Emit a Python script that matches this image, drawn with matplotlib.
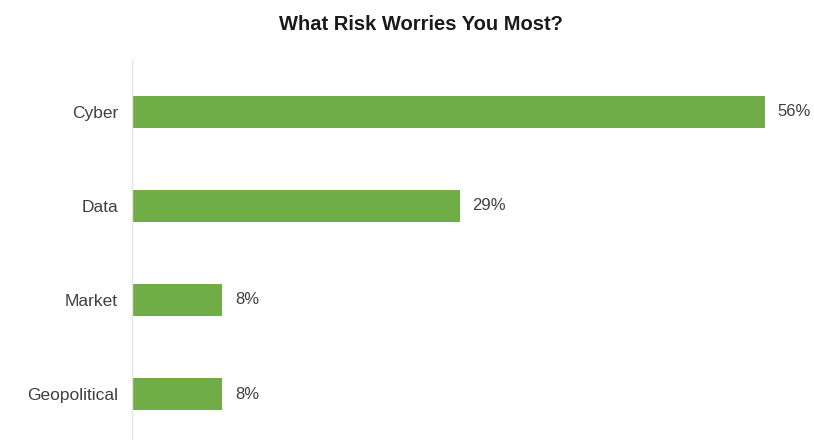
import matplotlib
matplotlib.use("Agg")
import matplotlib.pyplot as plt

categories = ["Cyber", "Data", "Market", "Geopolitical"]
values = [56, 29, 8, 8]
value_labels = ["56%", "29%", "8%", "8%"]

plt.rcParams['font.family'] = ['Liberation Sans', 'DejaVu Sans']

fig = plt.figure(figsize=(8.14, 4.4), dpi=100)
ax = fig.add_axes([132 / 814, 0.0, (800 - 132) / 814, (440 - 60) / 440])

pos = list(range(len(categories)))
ax.barh(pos, values, height=0.34, color="#70AD47")

for p, v, lab in zip(pos, values, value_labels):
    ax.text(v + 1.1, p, lab, va="center", ha="left", fontsize=12, color="#404040")

ax.set_xlim(0, (800 - 132) / 11.3)
ax.set_ylim(3 + 46 / 94, -52 / 94)
ax.set_yticks(pos)
ax.set_yticklabels(categories, fontsize=12.5, color="#404040")
ax.tick_params(axis="y", length=0, pad=10)
ax.set_xticks([])

for s in ["top", "right", "bottom"]:
    ax.spines[s].set_visible(False)
ax.spines["left"].set_color("#e6e6e6")
ax.spines["left"].set_linewidth(1.0)

fig.text(421 / 814, 1 - 25 / 440, "What Risk Worries You Most?", ha="center", va="center",
         fontsize=14.5, fontweight="bold", color="#1a1a1a")

fig.savefig("out.png", dpi=100)
